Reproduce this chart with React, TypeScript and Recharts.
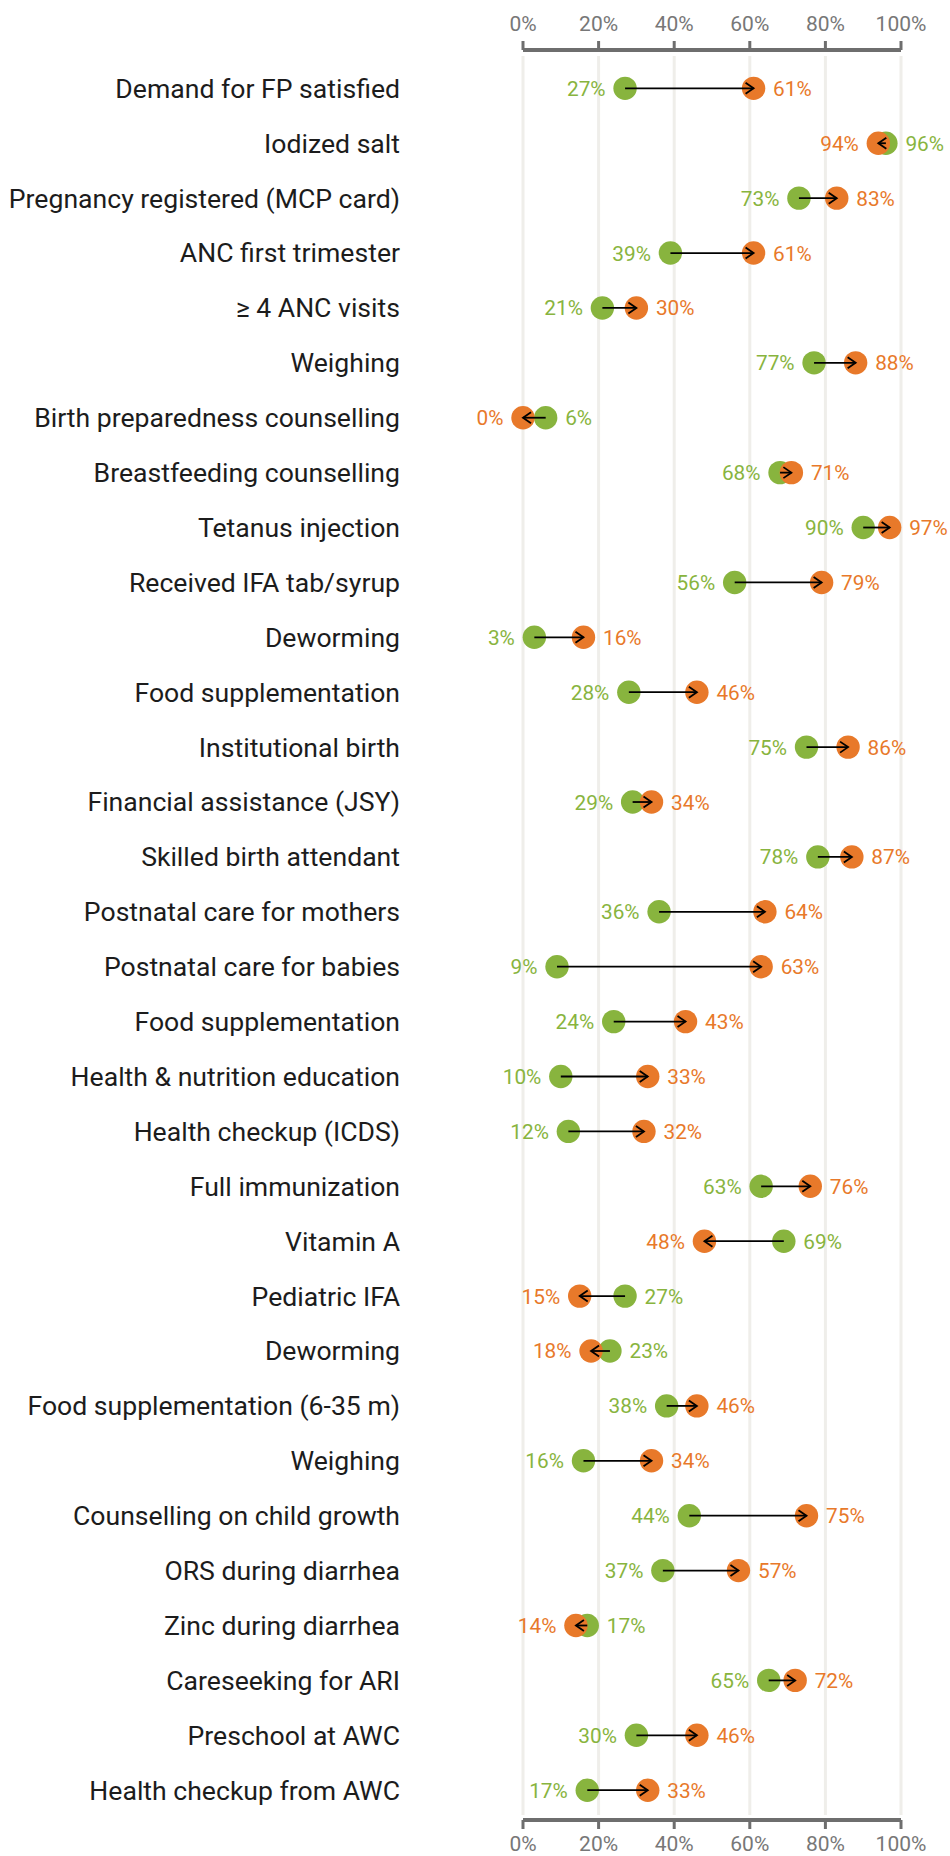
import React from 'react';
import { ComposedChart, Bar, Line, XAxis, YAxis, CartesianGrid } from 'recharts';

const categories = [
  'Demand for FP satisfied',
  'Iodized salt',
  'Pregnancy registered (MCP card)',
  'ANC first trimester',
  '≥ 4 ANC visits',
  'Weighing',
  'Birth preparedness counselling',
  'Breastfeeding counselling',
  'Tetanus injection',
  'Received IFA tab/syrup',
  'Deworming',
  'Food supplementation',
  'Institutional birth',
  'Financial assistance (JSY)',
  'Skilled birth attendant',
  'Postnatal care for mothers',
  'Postnatal care for babies',
  'Food supplementation',
  'Health & nutrition education',
  'Health checkup (ICDS)',
  'Full immunization',
  'Vitamin A',
  'Pediatric IFA',
  'Deworming',
  'Food supplementation (6-35 m)',
  'Weighing',
  'Counselling on child growth',
  'ORS during diarrhea',
  'Zinc during diarrhea',
  'Careseeking for ARI',
  'Preschool at AWC',
  'Health checkup from AWC',
];

const greenValues = [27, 96, 73, 39, 21, 77, 6, 68, 90, 56, 3, 28, 75, 29, 78, 36, 9, 24, 10, 12, 63, 69, 27, 23, 38, 16, 44, 37, 17, 65, 30, 17];
const orangeValues = [61, 94, 83, 61, 30, 88, 0, 71, 97, 79, 16, 46, 86, 34, 87, 64, 63, 43, 33, 32, 76, 48, 15, 18, 46, 34, 75, 57, 14, 72, 46, 33];

const xTicks = [0, 20, 40, 60, 80, 100];

const GREEN = '#88b43e';
const ORANGE = '#e8792a';
const AXIS = '#6e6e6e';
const TICK_TEXT = '#777777';
const GRID = '#efeeea';
const FONT = 'Roboto, "Noto Sans", sans-serif';

const data = categories.map((name, i) => ({
  name,
  green: greenValues[i],
  orange: orangeValues[i],
  range: [Math.min(greenValues[i], orangeValues[i]), Math.max(greenValues[i], orangeValues[i])],
}));

const fmt = (v: number) => `${v}%`;

function DumbbellShape(props: any) {
  const { x, y, width, height, payload } = props;
  if (x == null || y == null || !payload) return <g />;
  const cy = y + height / 2;
  const lo = Math.min(x, x + width);
  const hi = Math.max(x, x + width);
  const up = payload.orange >= payload.green;
  const gx = up ? lo : hi;
  const ox = up ? hi : lo;
  const dir = up ? 1 : -1;
  const r = 11.7;
  const off = 19.5;
  const gLabelX = up ? gx - off : gx + off;
  const oLabelX = up ? ox + off : ox - off;
  return (
    <g>
      <circle cx={gx} cy={cy} r={r} fill={GREEN} />
      <circle cx={ox} cy={cy} r={r} fill={ORANGE} />
      <line x1={gx} y1={cy} x2={ox} y2={cy} stroke="#000" strokeWidth={1.8} />
      <polyline
        points={`${ox - dir * 8},${cy - 5.5} ${ox},${cy} ${ox - dir * 8},${cy + 5.5}`}
        fill="none"
        stroke="#000"
        strokeWidth={1.8}
      />
      <text
        x={gLabelX}
        y={cy}
        dy="0.36em"
        textAnchor={up ? 'end' : 'start'}
        fill={GREEN}
        fontSize={20.8}
        fontFamily={FONT}
      >
        {fmt(payload.green)}
      </text>
      <text
        x={oLabelX}
        y={cy}
        dy="0.36em"
        textAnchor={up ? 'start' : 'end'}
        fill={ORANGE}
        fontSize={20.8}
        fontFamily={FONT}
      >
        {fmt(payload.orange)}
      </text>
    </g>
  );
}

const gridLine = (p: any) => (
  <line
    key={`grid-${p.index}`}
    x1={p.x1}
    x2={p.x2}
    y1={p.y1 + 6}
    y2={p.y2 - 5}
    stroke={GRID}
    strokeWidth={3}
  />
);

export default function App() {
  return (
    <div style={{ position: 'absolute', left: 0, top: 0, width: 950, height: 1856, background: '#fff' }}>
      <ComposedChart
        width={950}
        height={1856}
        data={data}
        layout="vertical"
        margin={{ top: 20, right: 49, bottom: 6, left: 0 }}
        style={{ fontFamily: FONT }}
      >
        <CartesianGrid horizontal={false} vertical={gridLine} stroke={GRID} />
        <XAxis
          xAxisId={0}
          type="number"
          orientation="top"
          domain={[0, 100]}
          ticks={xTicks}
          interval={0}
          tickFormatter={fmt}
          height={30}
          axisLine={{ stroke: AXIS, strokeWidth: 4 }}
          tickLine={{ stroke: AXIS, strokeWidth: 3 }}
          tickSize={9}
          tickMargin={10}
          tick={{ fill: TICK_TEXT, fontSize: 21, fontFamily: FONT }}
        />
        <XAxis
          xAxisId="bottom"
          type="number"
          orientation="bottom"
          domain={[0, 100]}
          ticks={xTicks}
          interval={0}
          tickFormatter={fmt}
          height={30}
          axisLine={{ stroke: AXIS, strokeWidth: 4 }}
          tickLine={{ stroke: AXIS, strokeWidth: 3 }}
          tickSize={9}
          tickMargin={7}
          tick={{ fill: TICK_TEXT, fontSize: 21, fontFamily: FONT }}
        />
        <YAxis
          type="category"
          dataKey="name"
          width={523}
          axisLine={false}
          tickLine={false}
          tickSize={0}
          tickMargin={123}
          interval={0}
          padding={{ top: 10.85, bottom: 2.4 }}
          tick={{ fill: '#1c1c1c', fontSize: 26.6, fontFamily: FONT }}
        />
        <Line
          dataKey="green"
          xAxisId="bottom"
          stroke="none"
          dot={false}
          activeDot={false}
          legendType="none"
          isAnimationActive={false}
        />
        <Bar dataKey="range" xAxisId={0} shape={DumbbellShape} isAnimationActive={false} />
      </ComposedChart>
    </div>
  );
}
